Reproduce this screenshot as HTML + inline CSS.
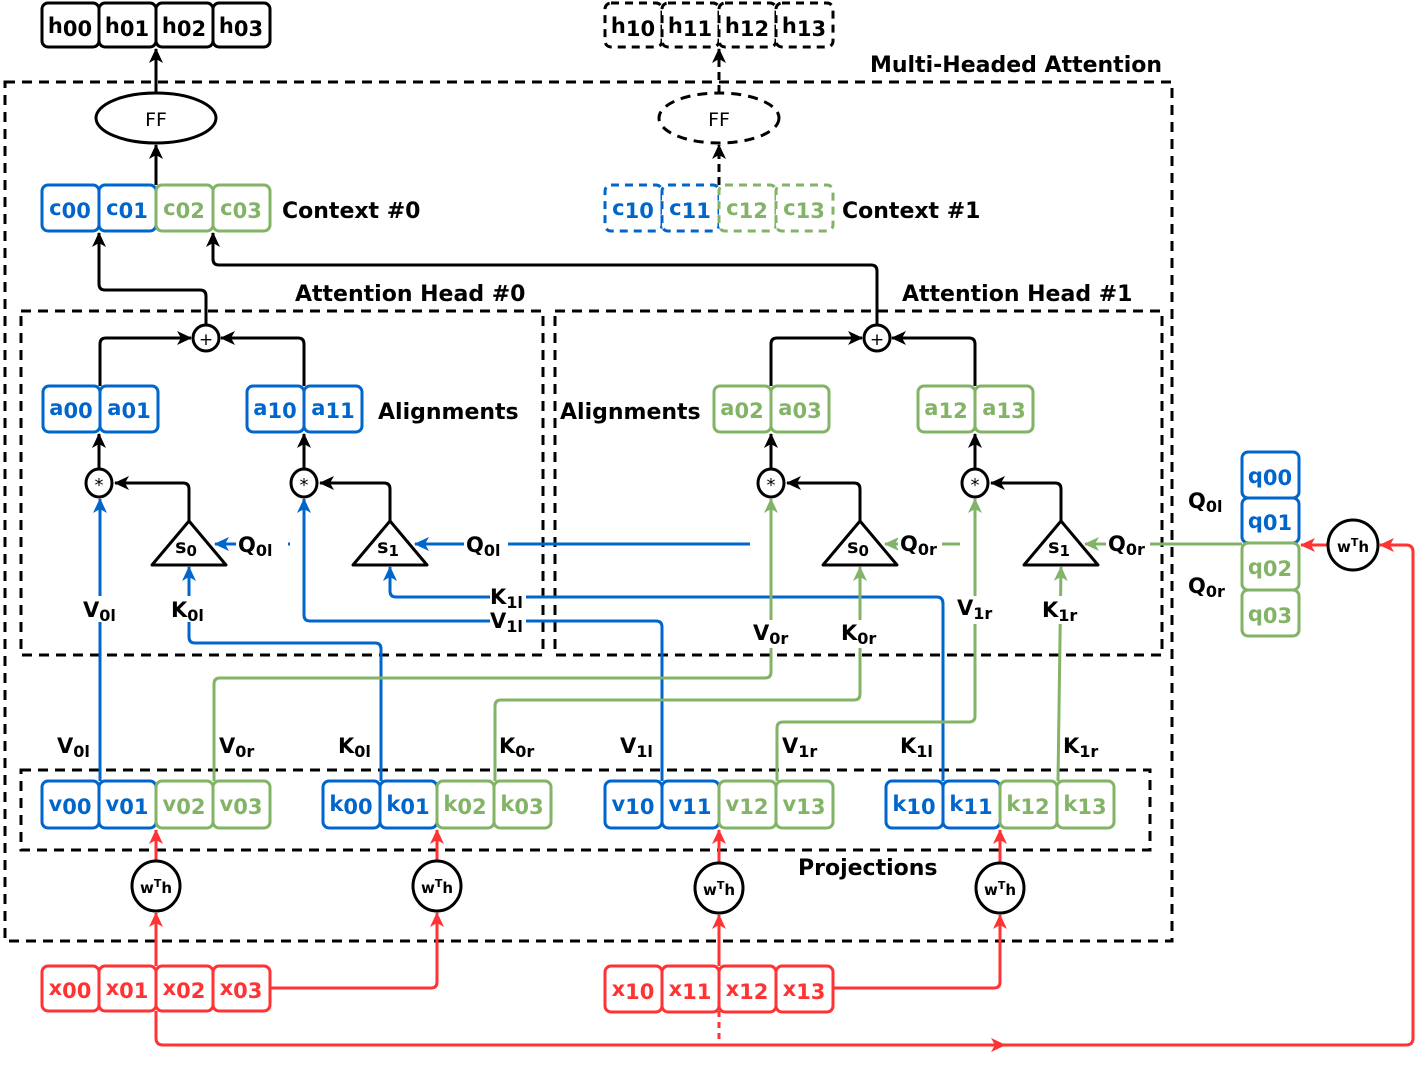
<!DOCTYPE html>
<html><head><meta charset="utf-8"><style>
html,body{margin:0;padding:0;background:#fff;}
svg{display:block;font-family:"DejaVu Sans","Liberation Sans",sans-serif;font-weight:bold;}
.c{stroke-width:3;fill:#fff;}
.t{font-size:21px;text-anchor:middle;}
.lab{font-size:22px;}
.ln{fill:none;stroke-width:3;}
</style></head><body>
<svg width="1426" height="1069" viewBox="0 0 1426 1069" xmlns="http://www.w3.org/2000/svg">
<defs>
<marker id="ak" markerUnits="userSpaceOnUse" markerWidth="16" markerHeight="16" refX="14" refY="8" orient="auto"><path d="M0,1 L15,8 L0,15 L4,8 Z" fill="#000"/></marker>
<marker id="ab" markerUnits="userSpaceOnUse" markerWidth="16" markerHeight="16" refX="14" refY="8" orient="auto"><path d="M0,1 L15,8 L0,15 L4,8 Z" fill="#0066cc"/></marker>
<marker id="ag" markerUnits="userSpaceOnUse" markerWidth="16" markerHeight="16" refX="14" refY="8" orient="auto"><path d="M0,1 L15,8 L0,15 L4,8 Z" fill="#82b366"/></marker>
<marker id="ar" markerUnits="userSpaceOnUse" markerWidth="16" markerHeight="16" refX="14" refY="8" orient="auto"><path d="M0,1 L15,8 L0,15 L4,8 Z" fill="#ff3333"/></marker>
</defs>

<!-- dashed containers -->
<g fill="none" stroke="#000" stroke-width="3" stroke-dasharray="10,7">
<rect x="5" y="82" width="1167" height="859"/>
<rect x="21" y="311" width="522" height="344"/>
<rect x="555" y="311" width="607" height="344"/>
<rect x="21" y="770" width="1129" height="80"/>
</g>

<!-- titles -->
<g class="lab" fill="#000">
<text x="870" y="72">Multi-Headed Attention</text>
<text x="282" y="218">Context #0</text>
<text x="842" y="218">Context #1</text>
<text x="295" y="301">Attention Head  #0</text>
<text x="902" y="301">Attention Head  #1</text>
<text x="378" y="419">Alignments</text>
<text x="560" y="419">Alignments</text>
<text x="798" y="875">Projections</text>
</g>

<!-- black connectors -->
<g class="ln" stroke="#000">
<path d="M156,93 V49" marker-end="url(#ak)"/>
<path d="M156,185 V145" marker-end="url(#ak)"/>
<path d="M206,325 V296 Q206,290 200,290 H105 Q99,290 99,284 V233" marker-end="url(#ak)"/>
<path d="M877,325 V271 Q877,265 871,265 H219 Q213,265 213,259 V233" marker-end="url(#ak)"/>
<path d="M100,386 V344 Q100,338 106,338 H191" marker-end="url(#ak)"/>
<path d="M304,386 V344 Q304,338 298,338 H221" marker-end="url(#ak)"/>
<path d="M771,386 V344 Q771,338 777,338 H862" marker-end="url(#ak)"/>
<path d="M975,386 V344 Q975,338 969,338 H892" marker-end="url(#ak)"/>
<path d="M99,469 V434" marker-end="url(#ak)"/>
<path d="M304,469 V434" marker-end="url(#ak)"/>
<path d="M771,469 V434" marker-end="url(#ak)"/>
<path d="M975,469 V434" marker-end="url(#ak)"/>
<path d="M189,521 V489 Q189,483 183,483 H115" marker-end="url(#ak)"/>
<path d="M390,521 V489 Q390,483 384,483 H320" marker-end="url(#ak)"/>
<path d="M860,521 V489 Q860,483 854,483 H787" marker-end="url(#ak)"/>
<path d="M1061,521 V489 Q1061,483 1055,483 H991" marker-end="url(#ak)"/>
<path d="M719,185 V145" stroke-dasharray="8,5" marker-end="url(#ak)"/>
<path d="M719,93 V49" stroke-dasharray="8,5" marker-end="url(#ak)"/>
</g>

<!-- blue connectors -->
<g class="ln" stroke="#0066cc">
<path d="M100,781 V499" marker-end="url(#ab)"/>
<path d="M381,781 V649 Q381,643 375,643 H195 Q189,643 189,637 V567" marker-end="url(#ab)"/>
<path d="M290,544 H215" marker-end="url(#ab)"/>
<path d="M750,544 H415" marker-end="url(#ab)"/>
<path d="M943,781 V604 Q943,597 937,597 H396 Q390,597 390,591 V567" marker-end="url(#ab)"/>
<path d="M662,781 V627 Q662,621 656,621 H310 Q304,621 304,615 V499" marker-end="url(#ab)"/>
</g>
<!-- green connectors -->
<g class="ln" stroke="#82b366">
<path d="M214,781 V684 Q214,678 220,678 H765 Q771,678 771,672 V499" marker-end="url(#ag)"/>
<path d="M495,781 V706 Q495,700 501,700 H854 Q860,700 860,694 V567" marker-end="url(#ag)"/>
<path d="M777,781 V728 Q777,722 783,722 H969 Q975,722 975,716 V499" marker-end="url(#ag)"/>
<path d="M1058,781 L1061,567" marker-end="url(#ag)"/>
<path d="M1242,544 H1085" marker-end="url(#ag)"/>
<path d="M960,544 H885" marker-end="url(#ag)"/>
</g>
<!-- red connectors -->
<g class="ln" stroke="#ff3333">
<path d="M156,966 V913" marker-end="url(#ar)"/>
<path d="M156,861 V830" marker-end="url(#ar)"/>
<path d="M270,988 H431 Q437,988 437,982 V913" marker-end="url(#ar)"/>
<path d="M437,861 V830" marker-end="url(#ar)"/>
<path d="M719,966 V915" marker-end="url(#ar)"/>
<path d="M719,863 V830" marker-end="url(#ar)"/>
<path d="M833,988 H994 Q1000,988 1000,982 V915" marker-end="url(#ar)"/>
<path d="M1000,863 V830" marker-end="url(#ar)"/>
<path d="M156,1011 V1038 Q156,1045 163,1045 H1005" marker-end="url(#ar)"/>
<path d="M1000,1045 H1406 Q1413,1045 1413,1038 V552 Q1413,545 1406,545 H1380" marker-end="url(#ar)"/>
<path d="M719,1011 V1045" stroke-dasharray="6,5"/>
<path d="M1328,545 H1301" marker-end="url(#ar)"/>
</g>

<!-- label backgrounds + labels (black) -->
<g font-size="21" fill="#000">
<g fill="#fff">
<rect x="82" y="596" width="38" height="26"/><rect x="170" y="596" width="38" height="26"/>
<rect x="236" y="532" width="52" height="26"/><rect x="464" y="532" width="44" height="26"/>
<rect x="490" y="586" width="36" height="48"/>
<rect x="751" y="620" width="40" height="28"/><rect x="840" y="620" width="42" height="28"/>
<rect x="956" y="596" width="42" height="28"/><rect x="1041" y="596" width="42" height="28"/>
<rect x="898" y="532" width="44" height="26"/><rect x="1106" y="532" width="44" height="26"/>
</g>
<text x="83" y="617">V<tspan font-size="16" dy="4">0l</tspan></text>
<text x="171" y="617">K<tspan font-size="16" dy="4">0l</tspan></text>
<text x="238" y="552">Q<tspan font-size="16" dy="4">0l</tspan></text>
<text x="466" y="552">Q<tspan font-size="16" dy="4">0l</tspan></text>
<text x="490" y="604">K<tspan font-size="16" dy="4">1l</tspan></text>
<text x="490" y="628">V<tspan font-size="16" dy="4">1l</tspan></text>
<text x="753" y="640">V<tspan font-size="16" dy="4">0r</tspan></text>
<text x="841" y="640">K<tspan font-size="16" dy="4">0r</tspan></text>
<text x="957" y="615">V<tspan font-size="16" dy="4">1r</tspan></text>
<text x="1042" y="617">K<tspan font-size="16" dy="4">1r</tspan></text>
<text x="900" y="551">Q<tspan font-size="16" dy="4">0r</tspan></text>
<text x="1108" y="551">Q<tspan font-size="16" dy="4">0r</tspan></text>
<text x="1188" y="508">Q<tspan font-size="16" dy="4">0l</tspan></text>
<text x="1188" y="593">Q<tspan font-size="16" dy="4">0r</tspan></text>
<text x="57" y="753">V<tspan font-size="16" dy="4">0l</tspan></text>
<text x="219" y="753">V<tspan font-size="16" dy="4">0r</tspan></text>
<text x="338" y="753">K<tspan font-size="16" dy="4">0l</tspan></text>
<text x="499" y="753">K<tspan font-size="16" dy="4">0r</tspan></text>
<text x="620" y="753">V<tspan font-size="16" dy="4">1l</tspan></text>
<text x="782" y="753">V<tspan font-size="16" dy="4">1r</tspan></text>
<text x="900" y="753">K<tspan font-size="16" dy="4">1l</tspan></text>
<text x="1063" y="753">K<tspan font-size="16" dy="4">1r</tspan></text>
</g>

<!-- ellipses / circles / triangles -->
<g stroke="#000" stroke-width="3" fill="#fff">
<ellipse cx="156" cy="118" rx="60" ry="25"/>
<ellipse cx="719" cy="118" rx="60" ry="25" stroke-dasharray="10,7"/>
<circle cx="206" cy="338" r="13"/><circle cx="877" cy="338" r="13"/>
<ellipse cx="99" cy="483" rx="13" ry="14"/><ellipse cx="304" cy="483" rx="13" ry="14"/>
<ellipse cx="771" cy="483" rx="13" ry="14"/><ellipse cx="975" cy="483" rx="13" ry="14"/>
<path d="M189,521 L226,565 L152,565 Z" stroke-linejoin="round"/>
<path d="M390,521 L427,565 L353,565 Z" stroke-linejoin="round"/>
<path d="M860,521 L897,565 L823,565 Z" stroke-linejoin="round"/>
<path d="M1061,521 L1098,565 L1024,565 Z" stroke-linejoin="round"/>
<ellipse cx="156" cy="886" rx="24" ry="25"/><ellipse cx="437" cy="886" rx="24" ry="25"/>
<ellipse cx="719" cy="888" rx="24" ry="25"/><ellipse cx="1000" cy="888" rx="24" ry="25"/>
<circle cx="1353" cy="545" r="25"/>
</g>
<g fill="#000" text-anchor="middle">
<text x="156" y="126" font-size="19" font-weight="normal">FF</text>
<text x="719" y="126" font-size="19" font-weight="normal">FF</text>
<text x="206" y="345" font-size="17" font-weight="normal">+</text>
<text x="877" y="345" font-size="17" font-weight="normal">+</text>
<text x="99" y="491" font-size="18" font-weight="normal">*</text>
<text x="304" y="491" font-size="18" font-weight="normal">*</text>
<text x="771" y="491" font-size="18" font-weight="normal">*</text>
<text x="975" y="491" font-size="18" font-weight="normal">*</text>
<text x="186" y="553" font-size="19">s<tspan font-size="15" dy="3">0</tspan></text>
<text x="388" y="553" font-size="19">s<tspan font-size="15" dy="3">1</tspan></text>
<text x="858" y="553" font-size="19">s<tspan font-size="15" dy="3">0</tspan></text>
<text x="1059" y="553" font-size="19">s<tspan font-size="15" dy="3">1</tspan></text>
<g font-size="15">
<text x="156" y="893">w<tspan font-size="11" dy="-6">T</tspan><tspan dy="6">h</tspan></text>
<text x="437" y="893">w<tspan font-size="11" dy="-6">T</tspan><tspan dy="6">h</tspan></text>
<text x="719" y="895">w<tspan font-size="11" dy="-6">T</tspan><tspan dy="6">h</tspan></text>
<text x="1000" y="895">w<tspan font-size="11" dy="-6">T</tspan><tspan dy="6">h</tspan></text>
<text x="1353" y="552">w<tspan font-size="11" dy="-6">T</tspan><tspan dy="6">h</tspan></text>
</g>
</g>

<!-- cells -->
<g class="t">
<!-- h row -->
<g stroke="#000" class="c"><rect x="42" y="3" width="57" height="44" rx="6"/><rect x="99" y="3" width="57" height="44" rx="6"/><rect x="156" y="3" width="57" height="44" rx="6"/><rect x="213" y="3" width="57" height="44" rx="6"/></g>
<g fill="#000"><text x="70" y="33">h<tspan dy="3">00</tspan></text><text x="127" y="33">h<tspan dy="3">01</tspan></text><text x="184" y="33">h<tspan dy="3">02</tspan></text><text x="241" y="33">h<tspan dy="3">03</tspan></text></g>
<g stroke="#000" class="c" stroke-dasharray="8,6"><rect x="605" y="3" width="57" height="44" rx="6"/><rect x="662" y="3" width="57" height="44" rx="6"/><rect x="719" y="3" width="57" height="44" rx="6"/><rect x="776" y="3" width="57" height="44" rx="6"/></g>
<g fill="#000"><text x="633" y="33">h<tspan dy="3">10</tspan></text><text x="690" y="33">h<tspan dy="3">11</tspan></text><text x="747" y="33">h<tspan dy="3">12</tspan></text><text x="804" y="33">h<tspan dy="3">13</tspan></text></g>
<!-- context -->
<g class="c" stroke="#0066cc"><rect x="42" y="185" width="57" height="46" rx="6"/><rect x="99" y="185" width="57" height="46" rx="6"/></g>
<g class="c" stroke="#82b366"><rect x="156" y="185" width="57" height="46" rx="6"/><rect x="213" y="185" width="57" height="46" rx="6"/></g>
<g fill="#0066cc"><text x="70" y="215">c<tspan dy="3">00</tspan></text><text x="127" y="215">c<tspan dy="3">01</tspan></text></g>
<g fill="#82b366"><text x="184" y="215">c<tspan dy="3">02</tspan></text><text x="241" y="215">c<tspan dy="3">03</tspan></text></g>
<g class="c" stroke="#0066cc" stroke-dasharray="8,6"><rect x="605" y="185" width="57" height="46" rx="6"/><rect x="662" y="185" width="57" height="46" rx="6"/></g>
<g class="c" stroke="#82b366" stroke-dasharray="8,6"><rect x="719" y="185" width="57" height="46" rx="6"/><rect x="776" y="185" width="57" height="46" rx="6"/></g>
<g fill="#0066cc"><text x="633" y="215">c<tspan dy="3">10</tspan></text><text x="690" y="215">c<tspan dy="3">11</tspan></text></g>
<g fill="#82b366"><text x="747" y="215">c<tspan dy="3">12</tspan></text><text x="804" y="215">c<tspan dy="3">13</tspan></text></g>
<!-- alignments -->
<g class="c" stroke="#0066cc"><rect x="43" y="386" width="57" height="46" rx="6"/><rect x="100" y="386" width="58" height="46" rx="6"/><rect x="247" y="386" width="57" height="46" rx="6"/><rect x="304" y="386" width="58" height="46" rx="6"/></g>
<g fill="#0066cc"><text x="71" y="415">a<tspan dy="3">00</tspan></text><text x="129" y="415">a<tspan dy="3">01</tspan></text><text x="275" y="415">a<tspan dy="3">10</tspan></text><text x="333" y="415">a<tspan dy="3">11</tspan></text></g>
<g class="c" stroke="#82b366"><rect x="714" y="386" width="57" height="46" rx="6"/><rect x="771" y="386" width="58" height="46" rx="6"/><rect x="918" y="386" width="57" height="46" rx="6"/><rect x="975" y="386" width="58" height="46" rx="6"/></g>
<g fill="#82b366"><text x="742" y="415">a<tspan dy="3">02</tspan></text><text x="800" y="415">a<tspan dy="3">03</tspan></text><text x="946" y="415">a<tspan dy="3">12</tspan></text><text x="1004" y="415">a<tspan dy="3">13</tspan></text></g>
<!-- q column -->
<g class="c" stroke="#0066cc"><rect x="1242" y="452" width="57" height="46" rx="6"/><rect x="1242" y="498" width="57" height="45" rx="6"/></g>
<g class="c" stroke="#82b366"><rect x="1242" y="543" width="57" height="47" rx="6"/><rect x="1242" y="590" width="57" height="46" rx="6"/></g>
<g fill="#0066cc"><text x="1270" y="483">q<tspan dy="2">00</tspan></text><text x="1270" y="528">q<tspan dy="2">01</tspan></text></g>
<g fill="#82b366"><text x="1270" y="574">q<tspan dy="2">02</tspan></text><text x="1270" y="621">q<tspan dy="2">03</tspan></text></g>
<!-- projections -->
<g class="c" stroke="#0066cc">
<rect x="42" y="781" width="57" height="47" rx="6"/><rect x="99" y="781" width="57" height="47" rx="6"/>
<rect x="323" y="781" width="57" height="47" rx="6"/><rect x="380" y="781" width="57" height="47" rx="6"/>
<rect x="605" y="781" width="57" height="47" rx="6"/><rect x="662" y="781" width="57" height="47" rx="6"/>
<rect x="886" y="781" width="57" height="47" rx="6"/><rect x="943" y="781" width="57" height="47" rx="6"/>
</g>
<g class="c" stroke="#82b366">
<rect x="156" y="781" width="57" height="47" rx="6"/><rect x="213" y="781" width="57" height="47" rx="6"/>
<rect x="437" y="781" width="57" height="47" rx="6"/><rect x="494" y="781" width="57" height="47" rx="6"/>
<rect x="719" y="781" width="57" height="47" rx="6"/><rect x="776" y="781" width="57" height="47" rx="6"/>
<rect x="1000" y="781" width="57" height="47" rx="6"/><rect x="1057" y="781" width="57" height="47" rx="6"/>
</g>
<g fill="#0066cc">
<text x="70" y="811">v<tspan dy="3">00</tspan></text><text x="127" y="811">v<tspan dy="3">01</tspan></text>
<text x="351" y="811">k<tspan dy="3">00</tspan></text><text x="408" y="811">k<tspan dy="3">01</tspan></text>
<text x="633" y="811">v<tspan dy="3">10</tspan></text><text x="690" y="811">v<tspan dy="3">11</tspan></text>
<text x="914" y="811">k<tspan dy="3">10</tspan></text><text x="971" y="811">k<tspan dy="3">11</tspan></text>
</g>
<g fill="#82b366">
<text x="184" y="811">v<tspan dy="3">02</tspan></text><text x="241" y="811">v<tspan dy="3">03</tspan></text>
<text x="465" y="811">k<tspan dy="3">02</tspan></text><text x="522" y="811">k<tspan dy="3">03</tspan></text>
<text x="747" y="811">v<tspan dy="3">12</tspan></text><text x="804" y="811">v<tspan dy="3">13</tspan></text>
<text x="1028" y="811">k<tspan dy="3">12</tspan></text><text x="1085" y="811">k<tspan dy="3">13</tspan></text>
</g>
<!-- x inputs -->
<g class="c" stroke="#ff3333">
<rect x="42" y="966" width="57" height="45" rx="6"/><rect x="99" y="966" width="57" height="45" rx="6"/><rect x="156" y="966" width="57" height="45" rx="6"/><rect x="213" y="966" width="57" height="45" rx="6"/>
<rect x="605" y="966" width="57" height="46" rx="6"/><rect x="662" y="966" width="57" height="46" rx="6"/><rect x="719" y="966" width="57" height="46" rx="6"/><rect x="776" y="966" width="57" height="46" rx="6"/>
</g>
<g fill="#ff3333">
<text x="70" y="995">x<tspan dy="3">00</tspan></text><text x="127" y="995">x<tspan dy="3">01</tspan></text><text x="184" y="995">x<tspan dy="3">02</tspan></text><text x="241" y="995">x<tspan dy="3">03</tspan></text>
<text x="633" y="996">x<tspan dy="3">10</tspan></text><text x="690" y="996">x<tspan dy="3">11</tspan></text><text x="747" y="996">x<tspan dy="3">12</tspan></text><text x="804" y="996">x<tspan dy="3">13</tspan></text>
</g>
</g>
</svg>
</body></html>
